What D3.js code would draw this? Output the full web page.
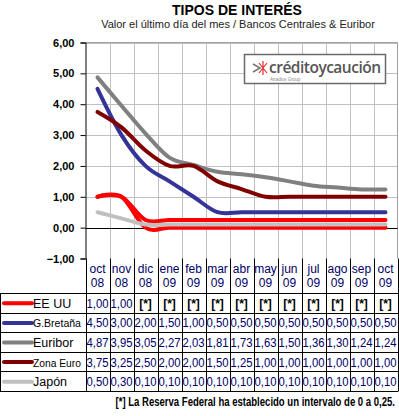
<!DOCTYPE html>
<html>
<head>
<meta charset="utf-8">
<script src="https://cdn.jsdelivr.net/npm/d3@7"></script>
<style>
  body { margin: 0; background: #fff; }
  svg { display: block; font-family: "Liberation Sans", Arial, sans-serif; }
</style>
</head>
<body>
<svg id="chart" width="399" height="416"></svg>
<script>
const months = ["oct", "nov", "dic", "ene", "feb", "mar", "abr", "may", "jun", "jul", "ago", "sep", "oct"];
const years = ["08", "08", "08", "09", "09", "09", "09", "09", "09", "09", "09", "09", "09"];
const yTicks = [-1, 0, 1, 2, 3, 4, 5, 6];

// EE UU: after Nov 08 the Fed set a range 0 - 0,25 (two lines)
const eeuuHigh = [1.00, 1.00, 0.25, 0.25, 0.25, 0.25, 0.25, 0.25, 0.25, 0.25, 0.25, 0.25, 0.25];
const eeuuLow = [1.00, 1.00, 0.00, 0.00, 0.00, 0.00, 0.00, 0.00, 0.00, 0.00, 0.00, 0.00, 0.00];
const eeuuTable = [1.00, 1.00, null, null, null, null, null, null, null, null, null, null, null];
const gBretana = [4.50, 3.00, 2.00, 1.50, 1.00, 0.50, 0.50, 0.50, 0.50, 0.50, 0.50, 0.50, 0.50];
const euribor = [4.87, 3.95, 3.05, 2.27, 2.03, 1.81, 1.73, 1.63, 1.50, 1.36, 1.30, 1.24, 1.24];
const zonaEuro = [3.75, 3.25, 2.50, 2.00, 2.00, 1.50, 1.25, 1.00, 1.00, 1.00, 1.00, 1.00, 1.00];
const japon = [0.50, 0.30, 0.10, 0.10, 0.10, 0.10, 0.10, 0.10, 0.10, 0.10, 0.10, 0.10, 0.10];

const series = [
  { name: "EE UU", color: "#ff0000", lines: [eeuuHigh, eeuuLow], table: eeuuTable },
  { name: "G.Bretaña", color: "#333399", lines: [gBretana], table: gBretana },
  { name: "Euribor", color: "#808080", lines: [euribor], table: euribor },
  { name: "Zona Euro", color: "#800000", lines: [zonaEuro], table: zonaEuro },
  { name: "Japón", color: "#c0c0c0", lines: [japon], table: japon },
];

const svg = d3.select("#chart");
const plotLeft = 85.5, plotRight = 397.5, plotTop = 42.5, plotBottom = 258.5;

const idx = d3.range(months.length);
const x = d3.scaleBand().domain(idx).range([plotLeft, plotRight]);
const y = d3.scaleLinear().domain([-1, 6]).range([plotBottom, plotTop]);
const fmt = v => d3.format(".2f")(v).replace(".", ",");

// titles
svg.append("text").attr("x", 237).attr("y", 15).attr("text-anchor", "middle")
  .attr("font-size", 14).attr("font-weight", "bold").text("TIPOS DE INTERÉS");
svg.append("text").attr("x", 238).attr("y", 28).attr("text-anchor", "middle")
  .attr("font-size", 11).attr("fill", "#222").text("Valor el último día del mes / Bancos Centrales & Euribor");

// grid
svg.append("g").selectAll("line").data(yTicks.filter(d => d !== 0 && d !== -1))
  .join("line")
  .attr("x1", plotLeft).attr("x2", plotRight)
  .attr("y1", d => Math.round(y(d)) + 0.5).attr("y2", d => Math.round(y(d)) + 0.5)
  .attr("stroke", "#c0c0c0");
svg.append("g").selectAll("line").data(idx.slice(1))
  .join("line")
  .attr("x1", d => Math.round(x(d)) + 0.5).attr("x2", d => Math.round(x(d)) + 0.5)
  .attr("y1", plotTop).attr("y2", plotBottom)
  .attr("stroke", "#c0c0c0");
svg.append("line").attr("x1", plotRight).attr("x2", plotRight).attr("y1", plotTop).attr("y2", plotBottom)
  .attr("stroke", "#a0a0a0");
svg.append("line").attr("x1", plotLeft).attr("x2", plotRight).attr("y1", plotTop).attr("y2", plotTop)
  .attr("stroke", "#a0a0a0");

// logo
const logo = svg.append("g").attr("transform", "translate(244,54)");
logo.append("rect").attr("x", 0.5).attr("y", 0.5).attr("width", 141).attr("height", 29)
  .attr("fill", "#fff").attr("stroke", "#6a6a6a").attr("stroke-width", 1.5);
logo.append("path").attr("d", "M9,10 L16,14 L9,18").attr("fill", "none")
  .attr("stroke", "#777").attr("stroke-width", 1.6);
logo.append("path").attr("d", "M19,7 L19,21 M15,9 L23,19 M23,9 L15,19").attr("fill", "none")
  .attr("stroke", "#e03030").attr("stroke-width", 1.2);
logo.append("text").attr("x", 25).attr("y", 19).attr("font-size", 15.5)
  .attr("font-family", "'Open Sans', 'DejaVu Sans', sans-serif").attr("font-weight", 600)
  .attr("letter-spacing", -0.5)
  .attr("fill", "#555").text("créditoycaución");
logo.append("text").attr("x", 26).attr("y", 26.5).attr("font-size", 4.5)
  .attr("fill", "#888").text("Atradius Group");

// zero line and y axis
svg.append("line").attr("x1", plotLeft).attr("x2", plotRight)
  .attr("y1", Math.round(y(0)) + 0.5).attr("y2", Math.round(y(0)) + 0.5).attr("stroke", "#000");

const yAxis = svg.append("g").attr("transform", `translate(${plotLeft},0)`)
  .call(d3.axisLeft(y).tickValues(yTicks).tickSize(5).tickPadding(6).tickFormat(fmt));
yAxis.select(".domain").attr("stroke", "#000");
yAxis.selectAll("text").attr("font-size", 11).attr("font-weight", "bold")
  .attr("font-family", "'Liberation Sans', Arial, sans-serif").attr("fill", "#000");

// lines
const line = d3.line()
  .x((d, i) => x(i) + x.bandwidth() / 2)
  .y(d => y(d))
  .curve(d3.curveCatmullRom.alpha(0));
series.forEach(s => {
  s.lines.forEach(vals => {
    svg.append("path").datum(vals).attr("d", line)
      .attr("fill", "none").attr("stroke", s.color).attr("stroke-width", 4)
      .attr("stroke-linecap", "round").attr("stroke-linejoin", "round");
  });
});

// table
const tableTop = 293.5, tableBottom = 391.5;
const rowY = d3.scaleBand().domain(series.map(s => s.name)).range([tableTop, tableBottom]);
const tbl = svg.append("g");

// header
const head = tbl.append("g").selectAll("g").data(idx).join("g");
head.append("text").attr("x", d => x(d) + x.bandwidth() / 2).attr("y", 273)
  .attr("text-anchor", "middle").attr("font-size", 12).attr("fill", "#000066")
  .text(d => months[d]);
head.append("text").attr("x", d => x(d) + x.bandwidth() / 2).attr("y", 287)
  .attr("text-anchor", "middle").attr("font-size", 12).attr("fill", "#000066")
  .text(d => years[d]);

// borders
tbl.append("g").selectAll("line").data(idx.concat([months.length]))
  .join("line")
  .attr("x1", d => Math.round(d === months.length ? plotRight : x(d)) + 0.5)
  .attr("x2", d => Math.round(d === months.length ? plotRight : x(d)) + 0.5)
  .attr("y1", plotBottom).attr("y2", tableBottom)
  .attr("stroke", "#000");
tbl.append("line").attr("x1", 0.5).attr("x2", 0.5).attr("y1", tableTop).attr("y2", tableBottom)
  .attr("stroke", "#000");
tbl.append("g").selectAll("line").data(series.map(s => rowY(s.name)).concat([tableBottom]))
  .join("line")
  .attr("x1", 0).attr("x2", plotRight + 0.5)
  .attr("y1", d => Math.round(d - 0.5) + 0.5).attr("y2", d => Math.round(d - 0.5) + 0.5)
  .attr("stroke", "#000");

// rows
const rows = tbl.append("g").selectAll("g").data(series).join("g")
  .attr("transform", s => `translate(0,${rowY(s.name) + rowY.bandwidth() / 2})`);
rows.append("line").attr("x1", 4).attr("x2", 32).attr("y1", 0).attr("y2", 0)
  .attr("stroke", s => s.color).attr("stroke-width", 4).attr("stroke-linecap", "round");
rows.append("text").attr("x", 33).attr("y", 4.5).attr("font-size", 12.5).attr("fill", "#000")
  .text(s => s.name)
  .each(function () {
    const w = this.getComputedTextLength();
    if (w > 48) {
      d3.select(this).attr("font-size", 12.5 * 48 / w);
    }
  });
rows.selectAll(".val").data(s => s.table).join("text")
  .attr("class", "val")
  .attr("x", (d, i) => x(i) + x.bandwidth() / 2).attr("y", 4.5)
  .attr("text-anchor", "middle")
  .attr("font-size", 12)
  .attr("font-weight", d => d === null ? "bold" : "normal")
  .attr("fill", d => d === null ? "#000" : "#000066")
  .attr("textLength", d => d === null ? null : 22)
  .attr("lengthAdjust", "spacingAndGlyphs")
  .text(d => d === null ? "[*]" : fmt(d));

// footnote, squeezed horizontally to the reference width
const note = svg.append("text")
  .attr("font-size", 12).attr("font-weight", "bold")
  .attr("font-family", "'Liberation Sans Narrow', 'Arial Narrow', sans-serif")
  .attr("text-anchor", "end")
  .text("[*] La Reserva Federal ha establecido un intervalo de 0 a 0,25.");
const noteW = note.node().getComputedTextLength();
note.attr("transform", `translate(395,406) scale(${Math.min(1, 280 / noteW)},1)`);
</script>
</body>
</html>
